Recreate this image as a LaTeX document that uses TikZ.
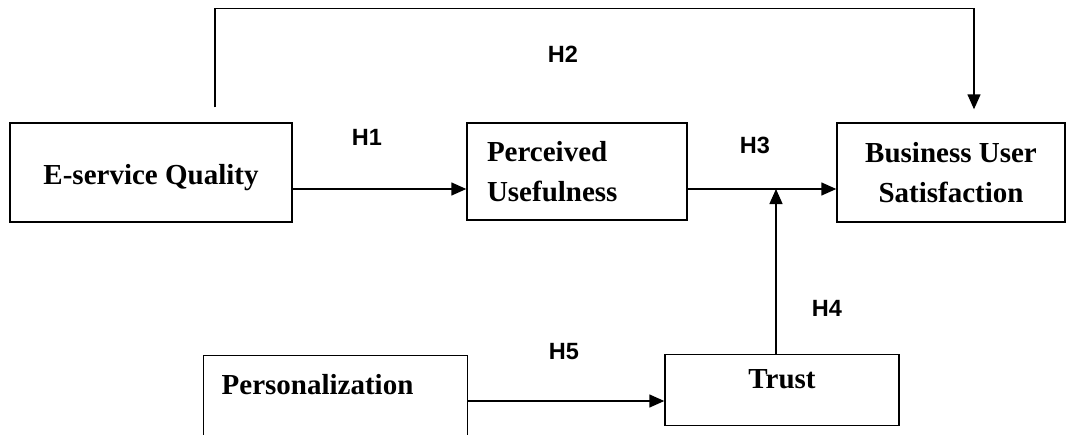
\documentclass[tikz,border=0pt]{standalone}
\usepackage{fontspec}
\setmainfont{Liberation Serif}
\newfontfamily\hypfont{Liberation Sans}
\usepackage{tikz}
\usetikzlibrary{arrows.meta, positioning}

\begin{document}
\begin{tikzpicture}[
      x=1pt, y=-1pt,
      box/.style={rectangle, draw, line width=1.4pt, font=\fontsize{29pt}{40pt}\selectfont\bfseries},
      hyp/.style={font=\hypfont\fontsize{23.5pt}{28pt}\selectfont\bfseries},
      arrow/.style={-{Triangle[length=15pt, width=13pt]}, line width=1.4pt}
    ]
    \useasboundingbox (0,0) rectangle (1071,434);

    % Top row
    \node[box, minimum width=282pt, minimum height=99pt, text height=30pt, text depth=7pt] (esq) at (151,172.5) {E-service Quality};
    \node[box, minimum width=220pt, minimum height=97pt, text width=180pt, inner xsep=20pt, align=left] (pu) at (577,171.5) {Perceived\\Usefulness};
    \node[box, minimum width=228pt, minimum height=99pt, align=center] (bus) at (951,172.5) {Business User\\Satisfaction};

    % Bottom row
    \node[box, anchor=north west, text width=228pt, inner xsep=18pt, inner ysep=19pt, text height=20pt, text depth=55pt, align=left] (pers) at (203,355) {Personalization};
    \node[box, anchor=north, minimum width=234pt, inner ysep=13pt, text height=21pt, text depth=24pt] (trust) at (782,354) {Trust};

    % Hypotheses
    \draw[arrow] ([yshift=-16.5pt]esq.east) -- ([yshift=-16.5pt]esq.east -| pu.west);
    \node[hyp] (h1) at (367,137) {H1};

    \draw[arrow] ([xshift=64pt, yshift=15pt]esq.north) -- ++(0,-99) -| ([xshift=23pt, yshift=13pt]bus.north);
    \node[hyp] (h2) at (563,54) {H2};

    \coordinate (pu3) at ([yshift=-17.5pt]pu.east);
    \draw[arrow] (pu3) -- (pu3 -| bus.west);
    \node[hyp] (h3) at (755,145) {H3};

    \draw[arrow] ([xshift=-6pt]trust.north) -- ([xshift=-6pt]trust.north |- pu3);
    \node[hyp] (h4) at (827,308) {H4};

    \draw[arrow] ([yshift=-46pt]pers.north east) -- ([yshift=-46pt]pers.north east -| trust.west);
    \node[hyp] (h5) at (564,352) {H5};

\end{tikzpicture}
\end{document}
